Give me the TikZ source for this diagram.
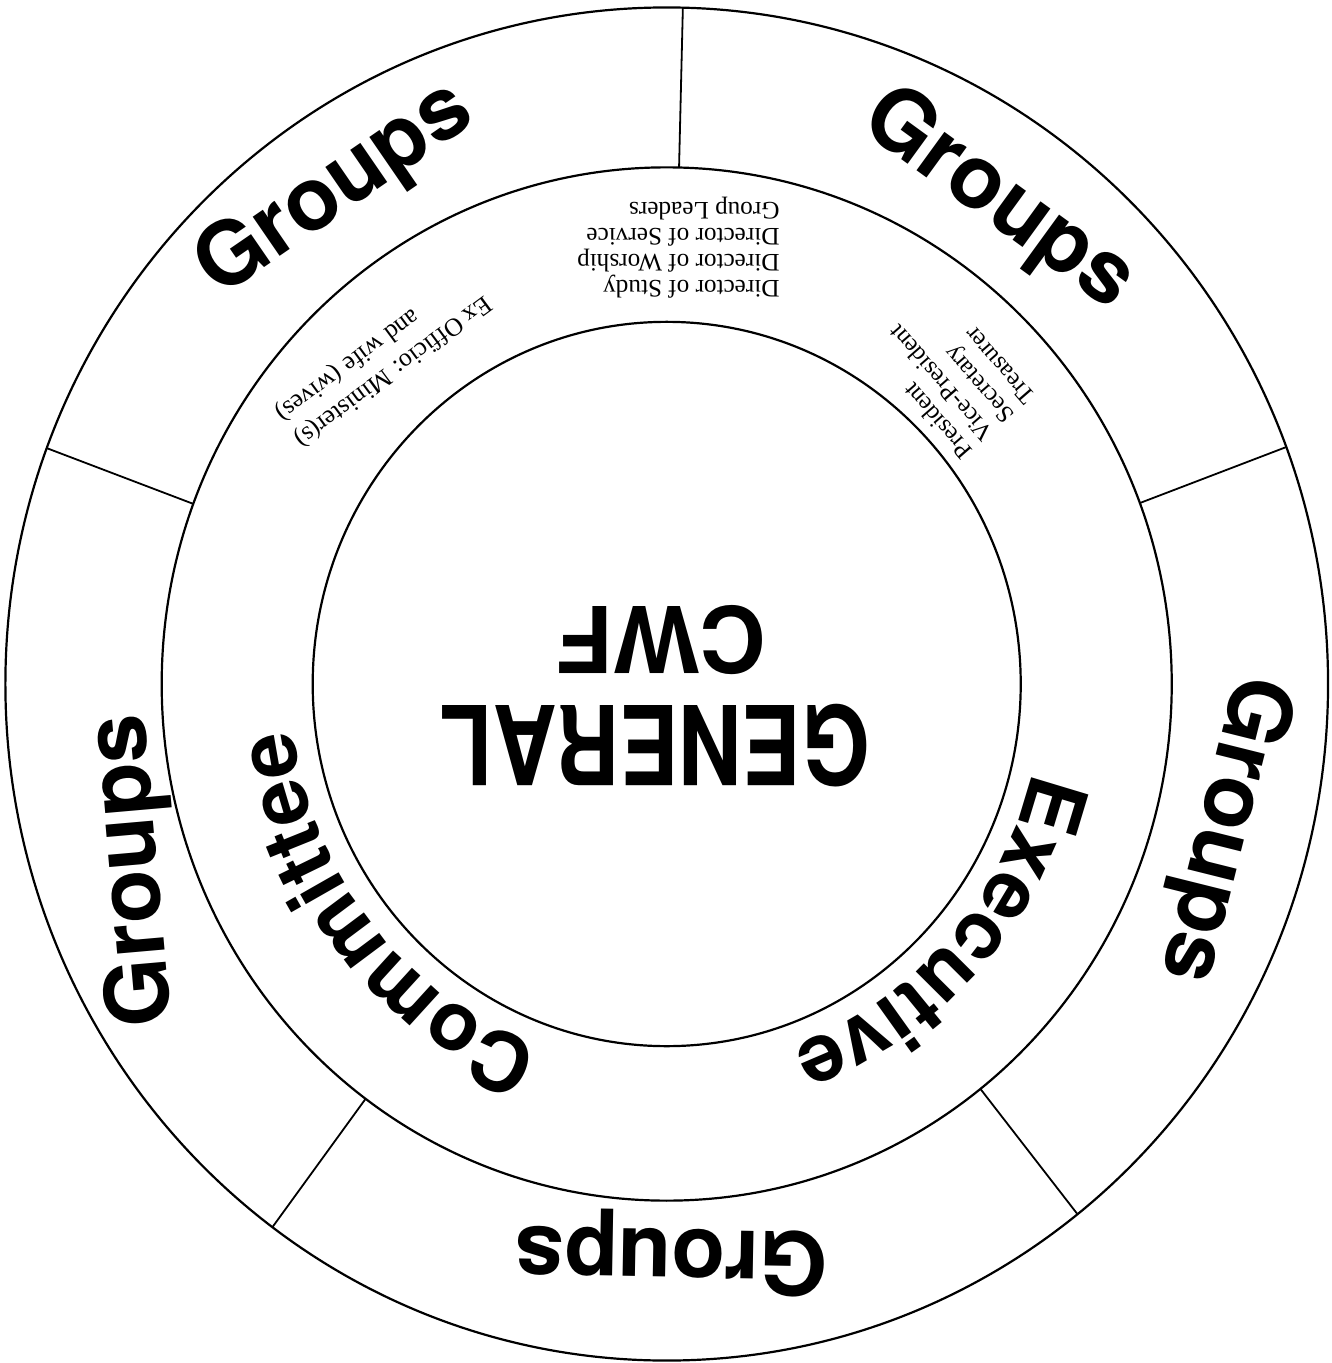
\documentclass[tikz,border=0pt]{standalone}
\usepackage{fontspec}
\setmainfont{Liberation Serif}
\newfontfamily\heros{TeX Gyre Heros}
\usetikzlibrary{decorations.text}
\tikzset{
    ring_line/.style={line width=1.1pt, draw=black},
    div_line/.style={line width=0.9pt, draw=black},
    groups_text/.style={font=\heros\bfseries\fontsize{44}{44}\selectfont, inner sep=0pt},
    center_text/.style={font=\heros\bfseries\fontsize{46}{46}\selectfont, inner sep=0pt},
    small_text/.style={font=\fontsize{12.6}{13}\selectfont, inner sep=0pt}
}

\begin{document}
\begin{tikzpicture}[x=0.5pt, y=0.5115pt]
    \useasboundingbox (-666.7,-663.7) rectangle (664.3,668.6);
    % the three rings
    \draw[ring_line] (0,0) circle[radius=661.3];
    \draw[ring_line] (0,0) circle[radius=505];
    \draw[ring_line] (0,0) circle[radius=354];
    % dividers of the outer ring
    \foreach \a in {20.5, 88.6, 159.6, 233.4, 308.4}
        \draw[div_line] (\a:505) -- (\a:661.3);
    % groups
    \node[groups_text, rotate=34.5] (grp_tl) at (124.5:585) {Groups};
    \node[groups_text, rotate=-36] (grp_tr) at (55:577) {Groups};
    \node[groups_text, rotate=-104] (grp_r) at (-14.3:573) {Groups};
    \node[groups_text, rotate=179] (grp_b) at (270.5:556) {Groups};
    \node[groups_text, rotate=95] (grp_l) at (198.9:562) {Groups};
    % executive committee on the middle ring
    \path[decorate, decoration={text along path, text align=center,
        text={|\heros\bfseries\fontsize{41}{41}\selectfont|Committee}}]
        (258.7:376) arc[start angle=258.7, end angle=178.7, radius=376];
    \path[decorate, decoration={text along path, text align=center,
        text={|\heros\bfseries\fontsize{41}{41}\selectfont|Executive}}]
        (358:376) arc[start angle=358, end angle=278, radius=376];
    % centre
    \node[center_text, rotate=180] (cwf) at (-4.7,43) {CWF};
    \node[center_text, font=\heros\bfseries\fontsize{44}{44}\selectfont,
        yscale=1.25, rotate=180] (general) at (-11.7,-60) {GENERAL};
    % officers
    \node[small_text, rotate=180, align=left] (directors) at (11.7,426.2)
        {Director of Study\\Director of Worship\\Director of Service\\Group Leaders};
    \node[small_text, font=\fontsize{12.3}{13.8}\selectfont, rotate=131,
        align=left] (officers) at (284.3,303)
        {President\\Vice-President\\Secretary\\Treasurer};
    \node[small_text, font=\fontsize{12.8}{16}\selectfont, rotate=216.5,
        align=right] (exofficio) at (-283.7,318.7)
        {Ex Officio: Minister(s)\\and wife (wives)};
\end{tikzpicture}
\end{document}
